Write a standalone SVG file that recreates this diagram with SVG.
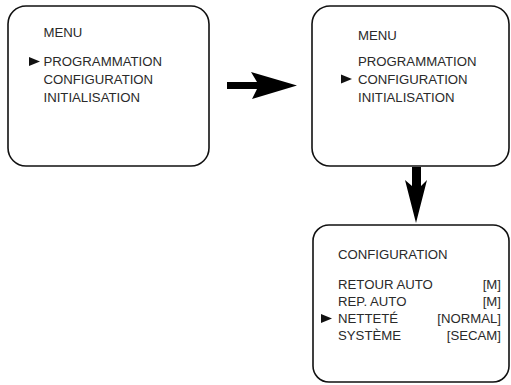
<svg xmlns="http://www.w3.org/2000/svg" width="511" height="385" viewBox="0 0 511 385">
<style>
.box{fill:#fff;stroke:#111;stroke-width:1.6}
.t{font-family:"Liberation Sans",Arial,sans-serif;font-size:13.2px;fill:#2a2a2a}
.r{text-anchor:end}
.arr{fill:#000}
.ptr{fill:#111}
</style>
<defs>
<polygon id="ptr" points="0,-4.5 11,0 0,4.5"/>
</defs>
<rect width="511" height="385" fill="#fff"/>
<g id="menu1">
<rect class="box" x="8" y="6" width="201" height="160" rx="18"/>
<text class="t" x="43.5" y="37">MENU</text>
<use href="#ptr" class="ptr" x="29" y="61.5"/>
<text class="t" x="43.5" y="66">PROGRAMMATION</text>
<text class="t" x="43.5" y="84">CONFIGURATION</text>
<text class="t" x="43.5" y="102">INITIALISATION</text>
</g>
<g id="menu2">
<rect class="box" x="312" y="6" width="197" height="160" rx="18"/>
<text class="t" x="358" y="40">MENU</text>
<text class="t" x="358" y="66">PROGRAMMATION</text>
<use href="#ptr" class="ptr" x="341" y="79"/>
<text class="t" x="358" y="84">CONFIGURATION</text>
<text class="t" x="358" y="102">INITIALISATION</text>
</g>
<g id="config">
<rect class="box" x="313" y="225" width="196" height="157" rx="16"/>
<text class="t" x="338" y="259">CONFIGURATION</text>
<text class="t" x="338" y="289">RETOUR AUTO</text>
<text class="t r" x="501" y="289">[M]</text>
<text class="t" x="338" y="306">REP. AUTO</text>
<text class="t r" x="501" y="306">[M]</text>
<use href="#ptr" class="ptr" x="321" y="318.5"/>
<text class="t" x="338" y="323">NETTETÉ</text>
<text class="t r" x="501" y="323">[NORMAL]</text>
<text class="t" x="338" y="340">SYSTÈME</text>
<text class="t r" x="501" y="340">[SECAM]</text>
</g>
<g id="connectors">
<polygon class="arr" points="227,82 257,82 251,72 297,85.5 252,99 257,89 227,89"/>
<polygon class="arr" points="412,167 421,167 421,186 427,180 416,223 405,180 412,186"/>
</g>
</svg>
